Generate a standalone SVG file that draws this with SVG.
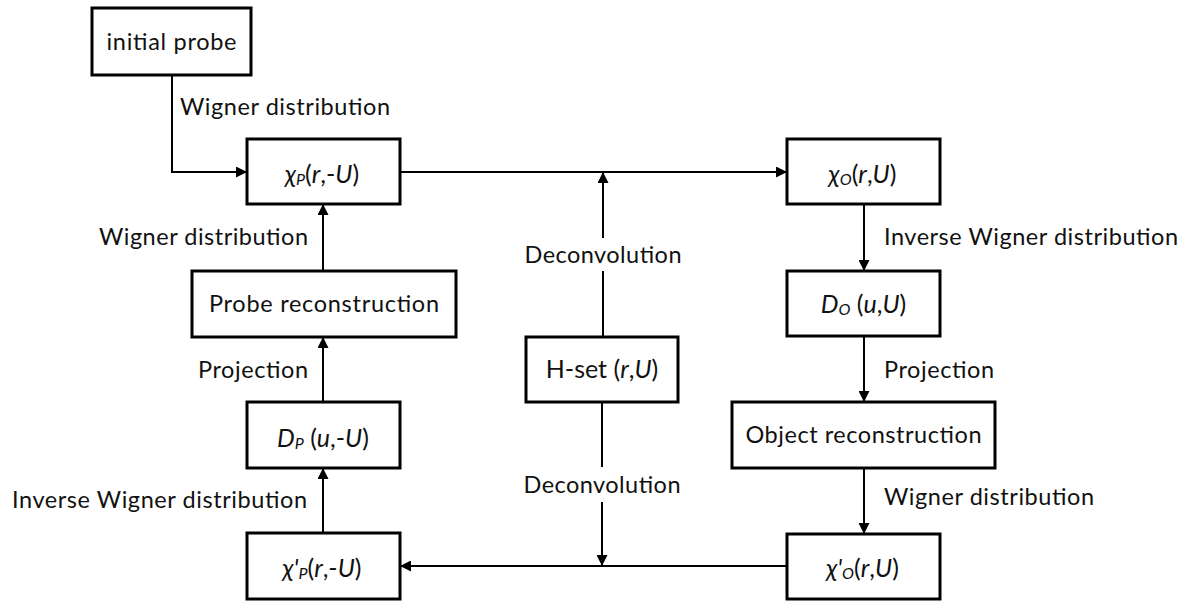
<svg xmlns="http://www.w3.org/2000/svg" width="1194" height="601" viewBox="0 0 1194 601">
  <defs>
    <marker id="arrow" viewBox="0 0 10 10" refX="10" refY="5" markerWidth="11" markerHeight="11" markerUnits="userSpaceOnUse" orient="auto">
      <path d="M0,0 L10,5 L0,10 Z" fill="#000"/>
    </marker>
    <style>
      .box { fill: #fff; stroke: #000; stroke-width: 3; }
      .edge { fill: none; stroke: #000; stroke-width: 2; }
      .arr { marker-end: url(#arrow); }
      text { font-family: "Lato", "Open Sans", "Noto Sans", sans-serif; font-size: 23.5px; fill: #111; }
      .c { text-anchor: middle; }
      .e { text-anchor: end; }
      .f { font-size: 25px; }
      .m { font-style: italic; }
      .sub { font-size: 16px; font-style: italic; }
    </style>
  </defs>

  <rect width="1194" height="601" fill="#fff"/>

  <!-- connectors -->
  <g id="connectors">
    <path class="edge arr" d="M172,75 V172 H247"/>
    <path class="edge arr" d="M400,172 H787"/>
    <path class="edge" d="M603,337 V271"/>
    <path class="edge arr" d="M603,238 V172"/>
    <path class="edge arr" d="M864,204 V271"/>
    <path class="edge arr" d="M864,336 V402"/>
    <path class="edge arr" d="M864,468 V534"/>
    <path class="edge arr" d="M787,566 H400"/>
    <path class="edge" d="M602,402 V467"/>
    <path class="edge arr" d="M602,502 V566"/>
    <path class="edge arr" d="M323,533 V468"/>
    <path class="edge arr" d="M323,402 V337"/>
    <path class="edge arr" d="M323,271 V204"/>
  </g>

  <!-- edge labels -->
  <g id="labels">
    <text x="180" y="115" textLength="210">Wigner distribution</text>
    <text x="308" y="245" class="e" textLength="209">Wigner distribution</text>
    <text x="603" y="263" class="c" textLength="157">Deconvolution</text>
    <text x="884" y="245" textLength="294">Inverse Wigner distribution</text>
    <text x="308" y="378" class="e" textLength="110">Projection</text>
    <text x="884" y="378" textLength="110">Projection</text>
    <text x="307" y="508" class="e" textLength="295">Inverse Wigner distribution</text>
    <text x="602" y="493" class="c" textLength="157">Deconvolution</text>
    <text x="884" y="505" textLength="210">Wigner distribution</text>
  </g>

  <!-- nodes -->
  <g id="initial-probe">
    <rect class="box" x="92" y="8" width="159" height="67"/>
    <text x="171.5" y="50" class="c" textLength="130">initial probe</text>
  </g>
  <g id="chi-p">
    <rect class="box" x="247" y="139" width="153" height="65"/>
    <text x="322" y="183" class="c f"><tspan class="m">χ</tspan><tspan class="sub" dy="2">P</tspan><tspan dy="-2">(</tspan><tspan class="m">r</tspan>,-<tspan class="m">U</tspan>)</text>
  </g>
  <g id="chi-o">
    <rect class="box" x="787" y="139" width="153" height="65"/>
    <text x="862.5" y="183" class="c f"><tspan class="m">χ</tspan><tspan class="sub" dy="2">O</tspan><tspan dy="-2">(</tspan><tspan class="m">r</tspan>,<tspan class="m">U</tspan>)</text>
  </g>
  <g id="probe-reconstruction">
    <rect class="box" x="192" y="271" width="264" height="66"/>
    <text x="324" y="312" class="c" textLength="230">Probe reconstruction</text>
  </g>
  <g id="d-o">
    <rect class="box" x="787" y="271" width="153" height="65"/>
    <text x="863.5" y="313" class="c f"><tspan class="m">D</tspan><tspan class="sub" dy="2">O</tspan><tspan dy="-2"> (</tspan><tspan class="m">u</tspan>,<tspan class="m">U</tspan>)</text>
  </g>
  <g id="h-set">
    <rect class="box" x="526" y="337" width="152" height="65"/>
    <text x="602" y="378" class="c f">H-set (<tspan class="m">r</tspan>,<tspan class="m">U</tspan>)</text>
  </g>
  <g id="d-p">
    <rect class="box" x="247" y="402" width="153" height="66"/>
    <text x="323" y="447" class="c f"><tspan class="m">D</tspan><tspan class="sub" dy="2">P</tspan><tspan dy="-2"> (</tspan><tspan class="m">u</tspan>,-<tspan class="m">U</tspan>)</text>
  </g>
  <g id="object-reconstruction">
    <rect class="box" x="732" y="402" width="263" height="66"/>
    <text x="863.5" y="443" class="c" textLength="236">Object reconstruction</text>
  </g>
  <g id="chi-p-prime">
    <rect class="box" x="247" y="533" width="153" height="66"/>
    <text x="322" y="577" class="c f"><tspan class="m">χ'</tspan><tspan class="sub" dy="2">P</tspan><tspan dy="-2">(</tspan><tspan class="m">r</tspan>,-<tspan class="m">U</tspan>)</text>
  </g>
  <g id="chi-o-prime">
    <rect class="box" x="787" y="534" width="153" height="65"/>
    <text x="862.5" y="577" class="c f"><tspan class="m">χ'</tspan><tspan class="sub" dy="2">O</tspan><tspan dy="-2">(</tspan><tspan class="m">r</tspan>,<tspan class="m">U</tspan>)</text>
  </g>
</svg>
